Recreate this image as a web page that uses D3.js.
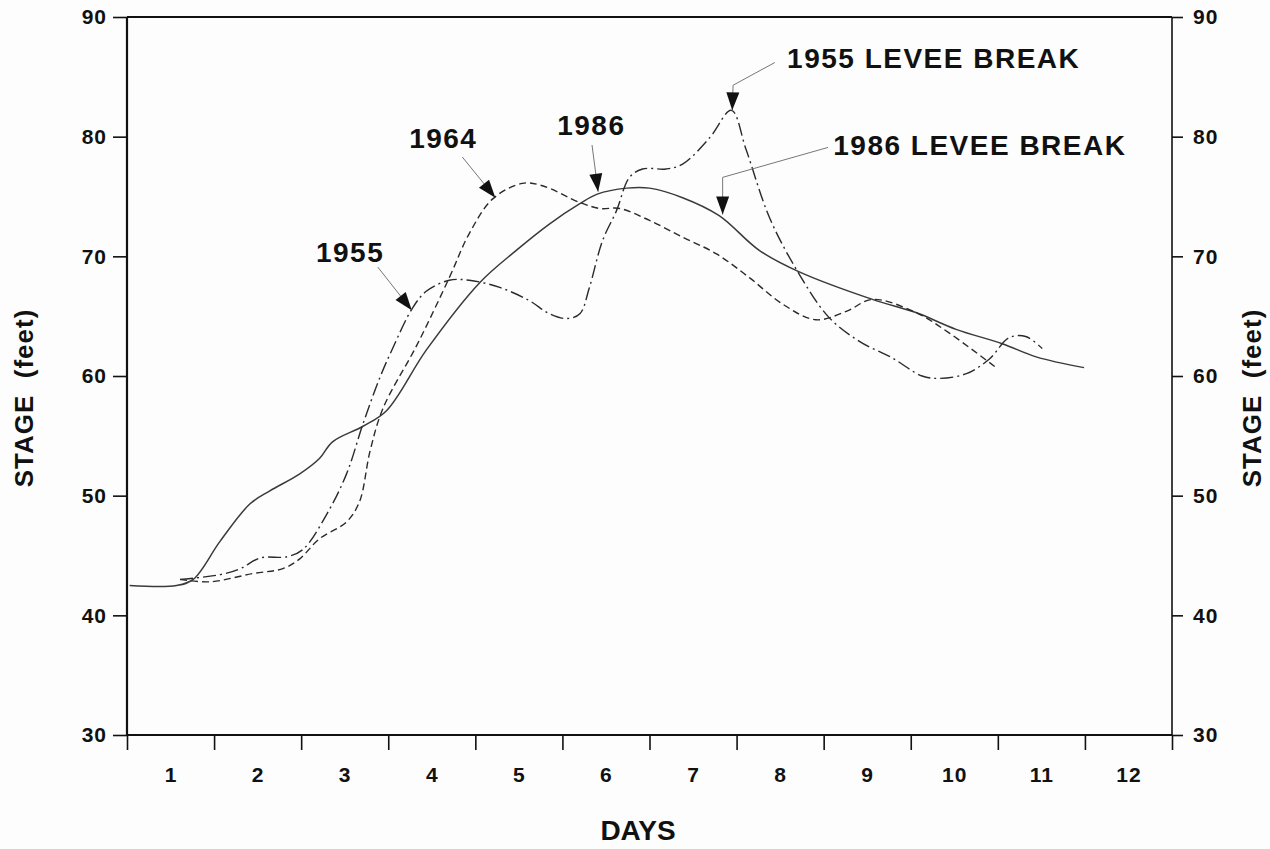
<!DOCTYPE html>
<html>
<head>
<meta charset="utf-8">
<script src="https://cdn.jsdelivr.net/npm/d3@7/dist/d3.min.js"></script>
<style>
  body { margin: 0; background: #fdfdfd; }
  svg text { font-family: "Liberation Sans", Arial, Helvetica, sans-serif; font-weight: bold; fill: #111; }
</style>
</head>
<body>
<script>
// --- data (day, stage in feet) ---
const days1986 = [0.03, 0.57, 0.76, 1.07, 1.41, 1.64, 1.98, 2.21, 2.36, 2.71, 2.98, 3.44, 4.05, 4.47, 4.85, 5.2, 5.4, 5.74, 6.0, 6.38, 6.8, 7.26, 7.72, 8.56, 9.06, 9.52, 10.05, 10.44, 10.99];
const stage1986 = [42.5, 42.5, 43.0, 46.2, 49.3, 50.4, 51.8, 53.1, 54.5, 55.8, 57.1, 62.2, 67.8, 70.5, 72.7, 74.4, 75.2, 75.7, 75.7, 74.9, 73.4, 70.5, 68.7, 66.4, 65.3, 63.9, 62.7, 61.6, 60.7];

const days1964 = [0.61, 0.95, 1.45, 1.79, 1.98, 2.21, 2.52, 2.67, 2.79, 2.94, 3.33, 3.7, 3.93, 4.2, 4.54, 4.77, 5.2, 5.43, 5.66, 6.0, 6.38, 6.77, 7.15, 7.53, 7.91, 8.26, 8.56, 9.06, 9.44, 9.98];
const stage1964 = [43.0, 42.8, 43.5, 43.9, 44.7, 46.4, 47.8, 49.5, 53.7, 57.3, 62.6, 68.2, 71.9, 74.8, 76.1, 75.9, 74.5, 74.0, 74.0, 73.0, 71.6, 70.2, 68.2, 66.0, 64.7, 65.4, 66.4, 65.3, 63.6, 60.7];

const days1955 = [0.61, 1.07, 1.3, 1.53, 1.84, 2.02, 2.29, 2.52, 2.71, 2.9, 3.05, 3.28, 3.44, 3.7, 3.93, 4.28, 4.62, 4.85, 5.05, 5.2, 5.31, 5.46, 5.62, 5.77, 5.92, 6.19, 6.38, 6.69, 6.94, 7.11, 7.38, 7.72, 8.06, 8.41, 8.79, 9.13, 9.33, 9.64, 9.9, 10.13, 10.32, 10.51];
const stage1955 = [43.0, 43.4, 43.9, 44.8, 44.9, 45.5, 48.4, 51.8, 56.0, 59.8, 62.3, 65.7, 67.1, 68.0, 68.0, 67.4, 66.3, 65.2, 64.8, 65.2, 67.4, 71.3, 73.8, 76.6, 77.3, 77.3, 77.7, 79.9, 82.2, 78.9, 73.2, 68.5, 64.9, 62.9, 61.5, 60.0, 59.8, 60.2, 61.4, 63.2, 63.3, 62.3];

const stageTicks = [30, 40, 50, 60, 70, 80, 90];
const dayLabels = [1, 2, 3, 4, 5, 6, 7, 8, 9, 10, 11, 12];

// annotations: label text, label anchor (day, stage), leader path ending at arrow tip
const annoText = ['1955', '1964', '1986', '1955 LEVEE BREAK', '1986 LEVEE BREAK'];
const annoDay = [2.17, 3.24, 4.94, 7.58, 8.11];
const annoStage = [69.5, 79.05, 80.14, 85.74, 78.47];
const annoLeader = [
  [[2.88, 69.1], [3.27, 65.5]],
  [[3.85, 78.3], [4.23, 74.9]],
  [[5.34, 79.3], [5.41, 75.4]],
  [[7.44, 86.2], [6.96, 84.3], [6.95, 82.2]],
  [[8.05, 79.1], [6.84, 76.6], [6.84, 73.5]],
];

const W = 1270, H = 849;
const x = d3.scaleLinear().domain([0, 12]).range([127, 1172]);
const y = d3.scaleLinear().domain([30, 90]).range([735, 17]);

const svg = d3.select('body').append('svg')
  .attr('width', W)
  .attr('height', H)
  .style('display', 'block');

svg.append('rect').attr('width', W).attr('height', H).attr('fill', '#fdfdfd');

// --- axes ---
const styleAxis = (g) => {
  g.select('.domain').remove();
  g.selectAll('line').attr('stroke', '#111').attr('stroke-width', 1.6);
  g.selectAll('text')
    .attr('font-size', 21)
    .attr('letter-spacing', 1)
    .attr('fill', '#111')
    .style('font-family', '"Liberation Sans", Arial, sans-serif')
    .style('font-weight', 'bold');
};

svg.append('g')
  .attr('transform', `translate(${x(0)},0)`)
  .call(d3.axisLeft(y).tickValues(stageTicks).tickSize(14).tickPadding(6).tickSizeOuter(0))
  .call(styleAxis);

svg.append('g')
  .attr('transform', `translate(${x(12)},0)`)
  .call(d3.axisRight(y).tickValues(stageTicks).tickSize(11).tickPadding(10).tickSizeOuter(0))
  .call(styleAxis);

svg.append('g')
  .attr('transform', `translate(0,${y(30)})`)
  .call(d3.axisBottom(x).tickValues(d3.range(0, 13)).tickSize(15).tickFormat('').tickSizeOuter(0))
  .call(styleAxis);

svg.append('g')
  .attr('transform', `translate(0,${y(30)})`)
  .call(d3.axisBottom(x).tickValues(dayLabels.map((d) => d - 0.5)).tickSize(0).tickPadding(32)
    .tickFormat((d) => d + 0.5))
  .call(styleAxis);

// frame
const frame = svg.append('g').attr('stroke', '#111').attr('fill', 'none');
frame.append('line').attr('x1', x(0)).attr('x2', x(12)).attr('y1', y(90)).attr('y2', y(90)).attr('stroke-width', 2.2);
frame.append('line').attr('x1', x(0)).attr('x2', x(12)).attr('y1', y(30)).attr('y2', y(30)).attr('stroke-width', 2.2);
frame.append('line').attr('x1', x(0)).attr('x2', x(0)).attr('y1', y(90)).attr('y2', y(30)).attr('stroke-width', 2.2);
frame.append('line').attr('x1', x(12)).attr('x2', x(12)).attr('y1', y(90)).attr('y2', y(30)).attr('stroke-width', 1.6);

// axis titles
svg.append('text')
  .attr('transform', `translate(33,398) rotate(-90)`)
  .attr('text-anchor', 'middle')
  .attr('font-size', 26)
  .attr('letter-spacing', 1)
  .style('white-space', 'pre')
  .text('STAGE  (feet)');

svg.append('text')
  .attr('transform', `translate(1261,398) rotate(-90)`)
  .attr('text-anchor', 'middle')
  .attr('font-size', 26)
  .attr('letter-spacing', 1)
  .style('white-space', 'pre')
  .text('STAGE  (feet)');

svg.append('text')
  .attr('x', 638)
  .attr('y', 840)
  .attr('text-anchor', 'middle')
  .attr('font-size', 28)
  .text('DAYS');

// --- hydrograph lines ---
const series = [
  { days: days1986, stage: stage1986, dash: null, width: 1.5, color: '#3a3a3a' },
  { days: days1964, stage: stage1964, dash: '7,4', width: 1.4, color: '#2a2a2a' },
  { days: days1955, stage: stage1955, dash: '13,4,2,4', width: 1.4, color: '#2a2a2a' },
];

const line = d3.line()
  .x((d) => x(d[0]))
  .y((d) => y(d[1]))
  .curve(d3.curveCatmullRom.alpha(0.5));

svg.append('g')
  .selectAll('path')
  .data(series)
  .join('path')
  .attr('d', (s) => line(s.days.map((d, i) => [d, s.stage[i]])))
  .attr('fill', 'none')
  .attr('stroke', (s) => s.color)
  .attr('stroke-width', (s) => s.width)
  .attr('stroke-dasharray', (s) => s.dash);

// --- annotations ---
const anno = svg.append('g');
annoText.forEach((t, i) => {
  anno.append('text')
    .attr('x', x(annoDay[i]))
    .attr('y', y(annoStage[i]))
    .attr('font-size', 28)
    .attr('letter-spacing', 1.5)
    .text(t);

  const pts = annoLeader[i].map((p) => [x(p[0]), y(p[1])]);
  anno.append('path')
    .attr('d', d3.line()(pts))
    .attr('fill', 'none')
    .attr('stroke', '#777')
    .attr('stroke-width', 1);

  const tip = pts[pts.length - 1];
  const from = pts[pts.length - 2];
  const a = Math.atan2(tip[1] - from[1], tip[0] - from[0]);
  const L = 18, hw = 6.5;
  const bx = tip[0] - L * Math.cos(a), by = tip[1] - L * Math.sin(a);
  const px = -Math.sin(a) * hw, py = Math.cos(a) * hw;
  anno.append('path')
    .attr('d', `M${tip[0]},${tip[1]}L${bx + px},${by + py}L${bx - px},${by - py}Z`)
    .attr('fill', '#111');
});
</script>
</body>
</html>
